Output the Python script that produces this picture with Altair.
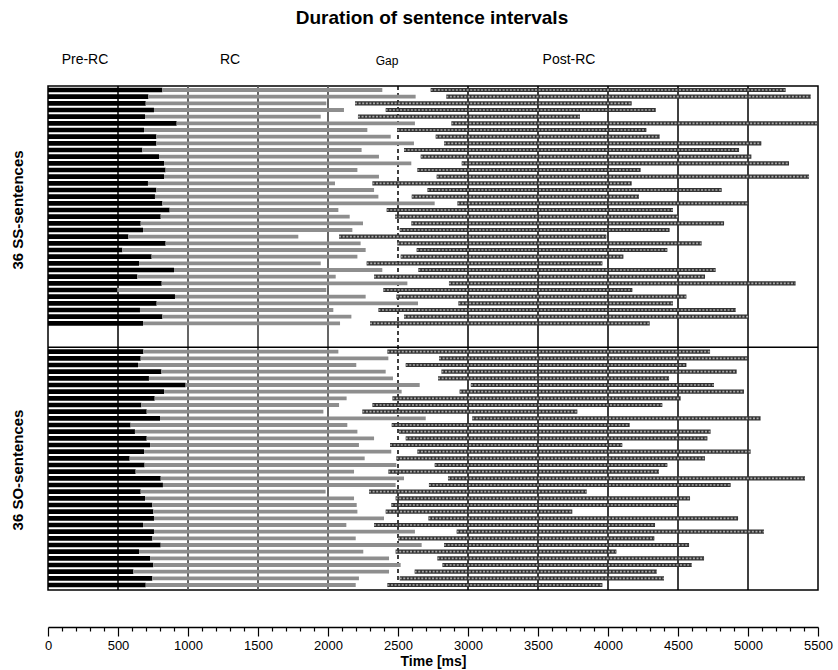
import altair as alt
import pandas as pd

# ---- data (ms) ----
ss_pre_end = [817, 717, 698, 757, 693, 919, 686, 774, 774, 674, 793, 829, 840, 829, 714, 774, 764, 817,
              869, 805, 662, 679, 574, 840, 531, 740, 650, 900, 638, 812, 495, 907, 776, 657, 817, 679]
ss_rc_end = [2388, 2626, 1988, 2114, 1948, 2621, 2281, 2448, 2614, 2240, 2364, 2595, 2210, 2364, 2050, 2329, 2360, 2762,
             2074, 2155, 2250, 2174, 1788, 2233, 2269, 2210, 1948, 2388, 2055, 2567, 1988, 2269, 2643, 2038, 2167, 2086]
ss_post_start = [2733, 2845, 2193, 2412, 2214, 2881, 2495, 2769, 2829, 2543, 2662, 2955, 2638, 2776, 2317, 2710, 2598, 2924,
                 2419, 2479, 2595, 2512, 2079, 2495, 2633, 2519, 2276, 2645, 2329, 2864, 2395, 2488, 2931, 2360, 2543, 2300]
ss_post_end = [5269, 5448, 4169, 4341, 3800, 5495, 4274, 4369, 5095, 4936, 5024, 5293, 4233, 5436, 4169, 4812, 4221, 5002,
               4464, 4500, 4829, 4440, 3988, 4669, 4424, 4110, 3960, 4769, 4693, 5340, 4174, 4560, 4464, 4912, 5002, 4298]

so_pre_end = [681, 662, 643, 810, 721, 983, 829, 762, 667, 705, 800, 590, 621, 705, 729, 686, 583, 690,
              626, 805, 821, 662, 693, 745, 752, 757, 679, 757, 745, 805, 650, 729, 752, 610, 745, 698]
so_rc_end = [2074, 2431, 2202, 2412, 2464, 2655, 2526, 2133, 2079, 1967, 2698, 2138, 2210, 2329, 2221, 2452, 2262, 2488,
             2186, 2543, 2483, 1983, 2186, 2205, 2210, 2400, 2131, 2621, 2198, 2669, 2252, 2436, 2519, 2436, 2221, 2198]
so_post_start = [2424, 2793, 2555, 2810, 2786, 3020, 2940, 2460, 2317, 2245, 3030, 2455, 2507, 2555, 2443, 2638, 2488, 2762,
                 2431, 2857, 2721, 2293, 2483, 2452, 2412, 2717, 2329, 2919, 2500, 2829, 2483, 2781, 2817, 2619, 2512, 2424]
so_post_end = [4729, 5002, 4560, 4919, 4436, 4757, 4971, 4519, 4388, 3781, 5090, 4155, 4733, 4710, 4102, 5019, 4693, 4424,
               4364, 5407, 4876, 3848, 4586, 4495, 3745, 4929, 4336, 5114, 4331, 4579, 4060, 4686, 4598, 4348, 4400, 3960]

grid_black = [500, 3000, 3500, 4000, 4500, 5000]
grid_gray = [1000, 1500, 2000]
grid_dashed = [2500]
tick_values = list(range(0, 5501, 100))

# row positions: 36 SS rows, a gap, then 36 SO rows
ss_pos = list(range(36))
so_pos = [39.25 + j for j in range(36)]
divider_pos = [38.6]

df = pd.DataFrame({
    "pos": ss_pos + so_pos,
    "pre": ss_pre_end + so_pre_end,
    "rc": ss_rc_end + so_rc_end,
    "ps": ss_post_start + so_post_start,
    "pe": ss_post_end + so_post_end,
})

FONT = "Liberation Sans"
W, H = 770, 504

xscale = alt.Scale(domain=[0, 5500], nice=False, zero=True)
yscale = alt.Scale(domain=[-0.6, 75], reverse=True, nice=False, zero=False)

xaxis = alt.Axis(
    values=tick_values,
    labelExpr="datum.value % 500 === 0 ? datum.label : ''",
    format="d",
    title="Time [ms]",
    titleFont=FONT, titleFontSize=14, titleFontWeight="bold", titleColor="black",
    titlePadding=2,
    labelFont=FONT, labelFontSize=13, labelColor="black", labelPadding=3,
    domainColor="black", domainWidth=1.5,
    tickColor="black", tickWidth=1.2,
    tickSize={"condition": {"test": "datum.value % 500 === 0", "value": 9}, "value": 4},
    offset=37, grid=False, labelFlush=False,
)

base = alt.Chart(df).transform_calculate(zero="0")

grid = alt.Chart(pd.DataFrame({"t": grid_black})).mark_rule(
    color="black", strokeWidth=1.5
).encode(x=alt.X("t:Q", scale=xscale, axis=xaxis))

gridg = alt.Chart(pd.DataFrame({"t": grid_gray})).mark_rule(
    color="#555555", strokeWidth=1.8
).encode(x=alt.X("t:Q", scale=xscale, axis=xaxis))

gridd = alt.Chart(pd.DataFrame({"t": grid_dashed})).mark_rule(
    color="black", strokeWidth=1.5, strokeDash=[4, 3]
).encode(x=alt.X("t:Q", scale=xscale, axis=xaxis))

y_enc = alt.Y("pos:Q", scale=yscale, axis=None)

pre = base.mark_rule(color="black", strokeWidth=4.6, strokeCap="butt").encode(
    x=alt.X("zero:Q", scale=xscale, axis=xaxis), x2="pre:Q", y=y_enc)

rc = base.mark_rule(color="#8e8e8e", strokeWidth=3.8, strokeCap="butt").encode(
    x=alt.X("pre:Q", scale=xscale, axis=xaxis), x2="rc:Q", y=y_enc)

post = base.mark_rule(color="#333333", strokeWidth=4.2, strokeCap="butt").encode(
    x=alt.X("ps:Q", scale=xscale, axis=xaxis), x2="pe:Q", y=y_enc)

hatch = base.mark_rule(color="#a8a8a8", strokeWidth=1.6, strokeCap="butt", strokeDash=[2, 1.6]).encode(
    x=alt.X("ps:Q", scale=xscale, axis=xaxis), x2="pe:Q", y=y_enc)

divider = alt.Chart(pd.DataFrame({"d": divider_pos})).mark_rule(color="black", strokeWidth=1.5).encode(
    y=alt.Y("d:Q", scale=yscale, axis=None), x=alt.value(0), x2=alt.value(W))


def label(txt, x, y, size=14, weight="normal", angle=0):
    return alt.Chart(pd.DataFrame({"t": [txt]})).mark_text(
        font=FONT, fontSize=size, fontWeight=weight, color="black", angle=angle,
        align="center", baseline="middle"
    ).encode(text="t:N", x=alt.value(x), y=alt.value(y))


texts = [
    label("Duration of sentence intervals", 384, -68, size=19, weight="bold"),
    label("Pre-RC", 37, -26, size=14),
    label("RC", 182, -26, size=14),
    label("Gap", 339, -25, size=12),
    label("Post-RC", 521, -26, size=14),
    label("36 SS-sentences", -30, 124, size=15, weight="bold", angle=270),
    label("36 SO-sentences", -30, 384, size=15, weight="bold", angle=270),
]

chart = alt.layer(grid, gridg, gridd, pre, rc, post, hatch, divider, *texts).properties(
    width=W, height=H,
    padding={"left": 48, "top": 86, "right": 20, "bottom": 80},
    autosize=alt.AutoSizeParams(type="none"),
    background="white",
).configure_view(stroke="black", strokeWidth=1.5)

chart.save("out.html", embed_options={"renderer": "svg", "actions": False})
